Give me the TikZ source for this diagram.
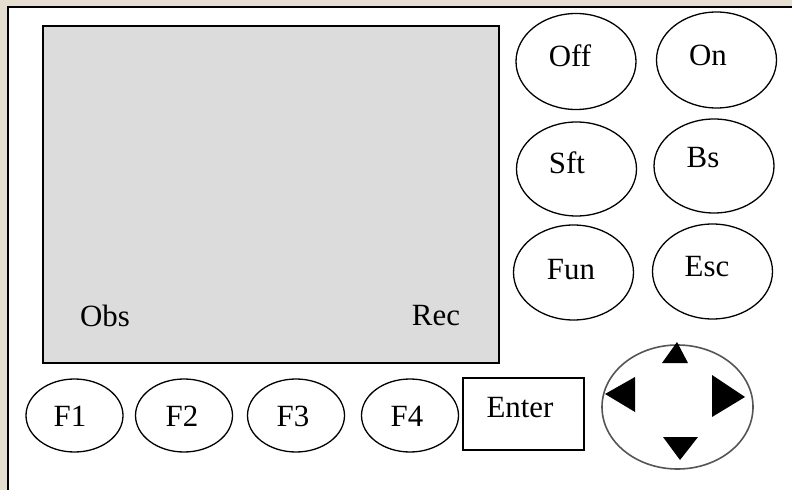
\documentclass[tikz,border=0pt]{standalone}
\usepackage{fontspec}
\setmainfont{Liberation Serif}
\usetikzlibrary{shapes.geometric}
\definecolor{bgpaper}{HTML}{E6DFD1}
\definecolor{scrgrey}{HTML}{DCDCDC}
\definecolor{navgrey}{HTML}{555555}
\begin{document}
\begin{tikzpicture}[x=1bp,y=-1bp,
  keyshape/.style={draw=black,ellipse,line width=1.3bp,inner sep=0pt,outer sep=0pt},
  bigkey/.style={keyshape,minimum width=120bp,minimum height=96bp},
  fkey/.style={keyshape,minimum width=97bp,minimum height=73bp},
  lbl/.style={inner sep=0pt,font=\fontsize{31}{36}\selectfont}]
\useasboundingbox (0,0) rectangle (792,490);
\fill[bgpaper] (0,0) rectangle (792,490);
\fill[white] (8,7) rectangle (792,490);
\draw[line width=2.2bp] (8,490) -- (8,7) -- (792,7);
% screen
\node[draw=black,fill=scrgrey,line width=1.6bp,minimum width=456bp,minimum height=337bp,inner sep=0pt,anchor=north west] (screen) at (42,25) {};
\node[lbl] (obs) at (105,316) {Obs};
\node[lbl] (rec) at (436,316) {Rec};
% right keys
\node[bigkey] (off) at (576,61.5) {};
\node[lbl] (offt) at (570,56) {Off};
\node[bigkey] (on) at (716.5,60) {};
\node[lbl] (ont) at (708,55) {On};
\node[bigkey,minimum height=94bp] (sft) at (576.5,169) {};
\node[lbl] (sftt) at (567,163) {Sft};
\node[bigkey,minimum height=94bp] (bs) at (714,166) {};
\node[lbl] (bst) at (703,158) {Bs};
\node[bigkey,minimum height=95bp] (fun) at (573.5,272.5) {};
\node[lbl] (funt) at (571,270) {Fun};
\node[bigkey,minimum height=95bp] (esc) at (712.5,271.5) {};
\node[lbl] (esct) at (707,267) {Esc};
% function keys
\node[fkey] (f1) at (74.5,415.5) {};
\node[lbl] (f1t) at (70,416) {F1};
\node[fkey] (f2) at (184,415.5) {};
\node[lbl] (f2t) at (182,416) {F2};
\node[fkey] (f3) at (296,415.5) {};
\node[lbl] (f3t) at (293,416) {F3};
\node[fkey] (f4) at (410,415.5) {};
\node[lbl] (f4t) at (407,416) {F4};
% enter
\node[draw=black,line width=1.3bp,minimum width=121bp,minimum height=72bp,inner sep=0pt] (enter) at (523.5,414) {};
\node[lbl] (entert) at (520,408) {Enter};
% navigation pad
\node[draw=navgrey,ellipse,line width=1.6bp,minimum width=151bp,minimum height=124bp,inner sep=0pt] (nav) at (677.5,407) {};
\fill[black] (677,342) -- (662,363) -- (688,363) -- cycle;
\fill[black] (605,394) -- (635,377) -- (635,412) -- cycle;
\fill[black] (712,375) -- (745,397) -- (712,417) -- cycle;
\fill[black] (663,437) -- (698,437) -- (680,460) -- cycle;
\end{tikzpicture}
\end{document}
